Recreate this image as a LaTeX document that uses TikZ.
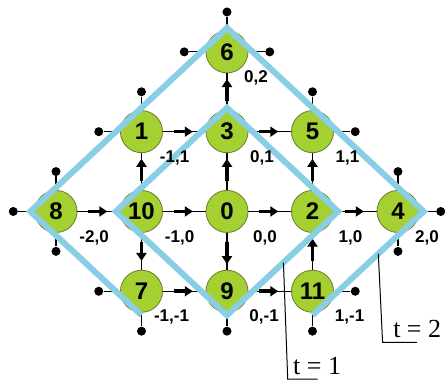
\documentclass[tikz,border=0pt]{standalone}
\usepackage{fontspec}
\setmainfont{Liberation Serif}
\newfontfamily\arialfont{Liberation Sans}
\usetikzlibrary{positioning,calc,arrows.meta}
\definecolor{cellgreen}{RGB}{165,208,50}
\definecolor{celledge}{RGB}{105,125,45}
\definecolor{waveblue}{RGB}{138,206,230}

\begin{document}
\begin{tikzpicture}[x=1.5cm, y=1.4cm,
  site/.style={circle, draw=celledge, fill=cellgreen, minimum size=21pt, inner sep=0pt, font=\arialfont\bfseries\fontsize{12}{12}\selectfont},
  coord/.style={font=\arialfont\bfseries\fontsize{8.5}{10}\selectfont, inner sep=0pt, xshift=17.5pt, yshift=-13pt},
  link/.style={line width=0.6pt},
  flow/.style={line width=1.8pt, -{Triangle[length=4pt, width=5pt]}},
  tip/.style={circle, fill=black, minimum size=4.5pt, inner sep=0pt},
  wave/.style={waveblue, line width=3pt},
  leader/.style={line width=0.5pt},
  tlabel/.style={font=\fontsize{13}{15}\selectfont, inner sep=0pt, anchor=base west}]

  \useasboundingbox (-2.655,-2.1125) rectangle (2.55,2.65);

  % Lattice sites
  \node[site] (n6) at (0,2) {6};
  \node[site] (n1) at (-1,1) {1};
  \node[site] (n3) at (0,1) {3};
  \node[site] (n5) at (1,1) {5};
  \node[site] (n8) at (-2,0) {8};
  \node[site] (n10) at (-1,0) {10};
  \node[site] (n0) at (0,0) {0};
  \node[site] (n2) at (1,0) {2};
  \node[site] (n4) at (2,0) {4};
  \node[site] (n7) at (-1,-1) {7};
  \node[site] (n9) at (0,-1) {9};
  \node[site] (n11) at (1,-1) {11};

  % Open ends
  \node[tip] (e6u) at (0,2.5) {};    \draw[link] (n6) -- (e6u);
  \node[tip] (e6l) at (-0.5,2) {};   \draw[link] (n6) -- (e6l);
  \node[tip] (e6r) at (0.5,2) {};    \draw[link] (n6) -- (e6r);
  \node[tip] (e1u) at (-1,1.5) {};   \draw[link] (n1) -- (e1u);
  \node[tip] (e1l) at (-1.5,1) {};   \draw[link] (n1) -- (e1l);
  \node[tip] (e5u) at (1,1.5) {};    \draw[link] (n5) -- (e5u);
  \node[tip] (e5r) at (1.5,1) {};    \draw[link] (n5) -- (e5r);
  \node[tip] (e8u) at (-2,0.5) {};   \draw[link] (n8) -- (e8u);
  \node[tip] (e8l) at (-2.5,0) {};   \draw[link] (n8) -- (e8l);
  \node[tip] (e8d) at (-2,-0.5) {};  \draw[link] (n8) -- (e8d);
  \node[tip] (e4u) at (2,0.5) {};    \draw[link] (n4) -- (e4u);
  \node[tip] (e4r) at (2.5,0) {};    \draw[link] (n4) -- (e4r);
  \node[tip] (e4d) at (2,-0.5) {};   \draw[link] (n4) -- (e4d);
  \node[tip] (e7l) at (-1.5,-1) {};  \draw[link] (n7) -- (e7l);
  \node[tip] (e7d) at (-1,-1.5) {};  \draw[link] (n7) -- (e7d);
  \node[tip] (e9d) at (0,-1.5) {};   \draw[link] (n9) -- (e9d);
  \node[tip] (e11r) at (1.5,-1) {};  \draw[link] (n11) -- (e11r);
  \node[tip] (e11d) at (1,-1.5) {};  \draw[link] (n11) -- (e11d);

  % Links with their directions
  \draw[link] (n1) -- (n3);   \draw[flow] ($(n1)!.38!(n3)$) -- ($(n1)!.6!(n3)$);
  \draw[link] (n3) -- (n5);   \draw[flow] ($(n3)!.38!(n5)$) -- ($(n3)!.6!(n5)$);
  \draw[link] (n8) -- (n10);  \draw[flow] ($(n8)!.38!(n10)$) -- ($(n8)!.6!(n10)$);
  \draw[link] (n10) -- (n0);  \draw[flow] ($(n10)!.38!(n0)$) -- ($(n10)!.6!(n0)$);
  \draw[link] (n0) -- (n2);   \draw[flow] ($(n0)!.38!(n2)$) -- ($(n0)!.6!(n2)$);
  \draw[link] (n2) -- (n4);   \draw[flow] ($(n2)!.38!(n4)$) -- ($(n2)!.6!(n4)$);
  \draw[link] (n7) -- (n9);   \draw[flow] ($(n7)!.38!(n9)$) -- ($(n7)!.6!(n9)$);
  \draw[link] (n9) -- (n11);  \draw[flow] ($(n9)!.38!(n11)$) -- ($(n9)!.6!(n11)$);
  \draw[link] (n3) -- (n6);   \draw[flow] ($(n3)!.38!(n6)$) -- ($(n3)!.66!(n6)$);
  \draw[link] (n10) -- (n1);  \draw[flow] ($(n10)!.38!(n1)$) -- ($(n10)!.66!(n1)$);
  \draw[link] (n0) -- (n3);   \draw[flow] ($(n0)!.38!(n3)$) -- ($(n0)!.66!(n3)$);
  \draw[link] (n2) -- (n5);   \draw[flow] ($(n2)!.38!(n5)$) -- ($(n2)!.66!(n5)$);
  \draw[link] (n0) -- (n9);   \draw[flow] ($(n0)!.38!(n9)$) -- ($(n0)!.66!(n9)$);
  \draw[link] (n10) -- (n7);  \draw[flow] ($(n10)!.38!(n7)$) -- ($(n10)!.62!(n7)$);
  \draw[link] (n11) -- (n2);  \draw[flow] ($(n11)!.38!(n2)$) -- ($(n11)!.66!(n2)$);

  % Fronts
  \draw[wave] (-1,-1.3) -- (-2.3,0) -- (0,2.3) -- (2.3,0) -- (1,-1.3);
  \draw[wave] (-1.3,0) -- (0,1.3) -- (1.3,0) -- (0,-1.3) -- cycle;

  % Coordinates of the sites
  \node[coord, xshift=-3pt] (c6) at (n6) {0,2};
  \node[coord, xshift=-1pt] (c1) at (n1) {-1,1};
  \node[coord] (c3) at (n3) {0,1};
  \node[coord] (c5) at (n5) {1,1};
  \node[coord, xshift=1.5pt] (c8) at (n8) {-2,0};
  \node[coord, xshift=1.5pt] (c10) at (n10) {-1,0};
  \node[coord, xshift=1.5pt] (c0) at (n0) {0,0};
  \node[coord, xshift=1.5pt] (c2) at (n2) {1,0};
  \node[coord, xshift=-3pt] (c4) at (n4) {2,0};
  \node[coord, xshift=-2.5pt] (c7) at (n7) {-1,-1};
  \node[coord, xshift=1pt] (c9) at (n9) {0,-1};
  \node[coord, xshift=1pt] (c11) at (n11) {1,-1};

  % Time labels
  \coordinate (t1a) at (0.66,-0.64);
  \coordinate (t1b) at (0.71,-2.1);
  \coordinate (t1c) at (1.06,-2.1);
  \draw[leader] (t1a) -- (t1b) -- (t1c);
  \node[tlabel] (t1) at (0.77,-2.04) {t = 1};
  \coordinate (t2a) at (1.77,-0.53);
  \coordinate (t2b) at (1.82,-1.64);
  \coordinate (t2c) at (2.22,-1.64);
  \draw[leader] (t2a) -- (t2b) -- (t2c);
  \node[tlabel] (t2) at (1.94,-1.575) {t = 2};

\end{tikzpicture}
\end{document}
